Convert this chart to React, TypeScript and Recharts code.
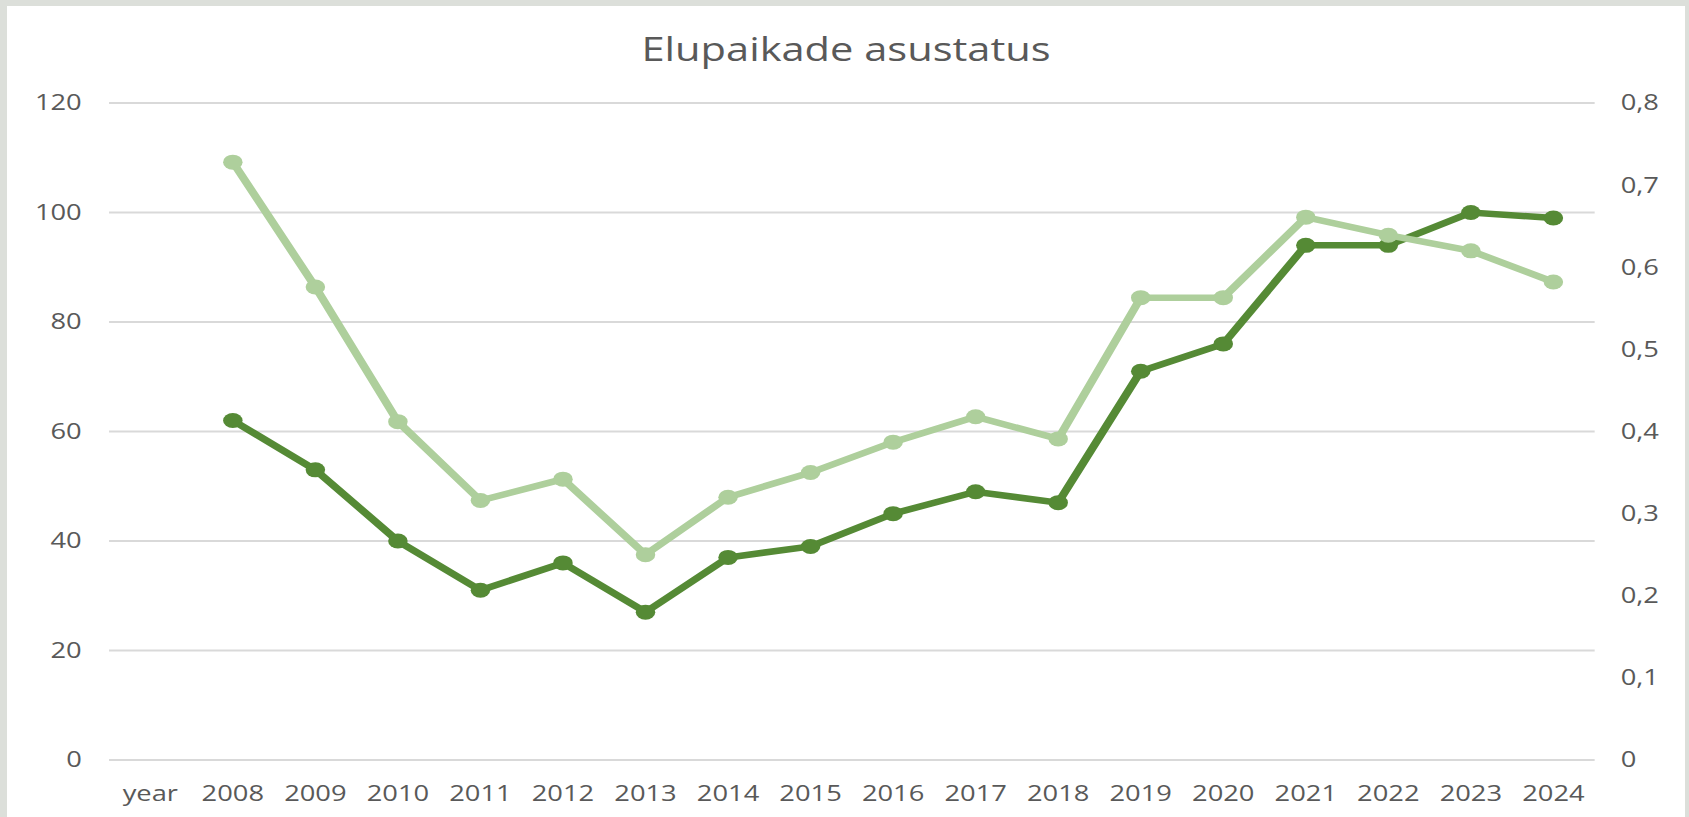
import React from 'react';
import { LineChart, Line, XAxis, YAxis, CartesianGrid } from 'recharts';

// categories on the x axis
const years = ['year', '2008', '2009', '2010', '2011', '2012', '2013', '2014', '2015', '2016', '2017', '2018', '2019', '2020', '2021', '2022', '2023', '2024'];

// dark green series, left axis
const occupiedSites = [null, 62, 53, 40, 31, 36, 27, 37, 39, 45, 49, 47, 71, 76, 94, 94, 100, 99];

// light green series, right axis
const occupancyShare = [null, 0.728, 0.576, 0.412, 0.316, 0.342, 0.25, 0.32, 0.35, 0.387, 0.418, 0.391, 0.563, 0.563, 0.661, 0.639, 0.62, 0.582];

const leftTicks = [0, 20, 40, 60, 80, 100, 120];
const rightTicks = [0, 0.1, 0.2, 0.3, 0.4, 0.5, 0.6, 0.7, 0.8];

const data = years.map((year, i) => ({
  year,
  sites: occupiedSites[i],
  share: occupancyShare[i],
}));

const DARK = '#558A35';
const LIGHT = '#AECF9C';
const TEXT = '#595959';
const FONT = '"Open Sans", sans-serif';

// the reference is stretched horizontally, so draw narrower and scale
const STRETCH = 1.3;
const PANEL_W = 1678;
const PANEL_H = 811;
const CHART_W = Math.round(PANEL_W / STRETCH);
const LEFT_W = 78.5;
const RIGHT_W = 69.5;
// half a category band, so points sit in the middle of each slot
const HALF_BAND = (CHART_W - LEFT_W - RIGHT_W) / years.length / 2;

const tickStyle = { fill: TEXT, fontSize: 21, fontFamily: FONT };

const App: React.FC = () => {
  return (
    <div style={{ position: 'absolute', left: 0, top: 0, width: 1689, height: 817, background: '#dcdfda', overflow: 'hidden' }}>
      <div style={{ position: 'absolute', left: 7, top: 6, width: PANEL_W, height: PANEL_H, background: '#ffffff' }}>
        <div style={{ position: 'relative', width: CHART_W, height: PANEL_H, transform: `scaleX(${PANEL_W / CHART_W})`, transformOrigin: '0 0' }}>
          <div
            style={{
              position: 'absolute',
              top: 27,
              left: 0,
              width: CHART_W,
              textAlign: 'center',
              fontFamily: FONT,
              fontSize: 32,
              lineHeight: '32px',
              color: TEXT,
            }}
          >
            Elupaikade asustatus
          </div>
          <LineChart width={CHART_W} height={PANEL_H} data={data} margin={{ top: 97, right: 0, left: 0, bottom: 0 }}>
            <CartesianGrid yAxisId="left" vertical={false} stroke="#d9d9d9" strokeWidth={2} />
            <XAxis
              dataKey="year"
              interval={0}
              padding={{ left: HALF_BAND, right: HALF_BAND }}
              axisLine={false}
              tickLine={false}
              tickSize={0}
              tickMargin={26}
              height={57}
              tick={tickStyle}
            />
            <YAxis
              yAxisId="left"
              orientation="left"
              domain={[0, 120]}
              ticks={leftTicks}
              axisLine={false}
              tickLine={false}
              tickSize={0}
              tickMargin={21}
              width={LEFT_W}
              tick={tickStyle}
            />
            <YAxis
              yAxisId="right"
              orientation="right"
              domain={[0, 0.8]}
              ticks={rightTicks}
              axisLine={false}
              tickLine={false}
              tickSize={0}
              tickMargin={20}
              width={RIGHT_W}
              tick={{ ...tickStyle, textAnchor: 'start' }}
              tickFormatter={(v) => (v === 0 ? '0' : Number(v).toFixed(1).replace('.', ','))}
            />
            <Line
              yAxisId="left"
              type="linear"
              dataKey="sites"
              stroke={DARK}
              strokeWidth={6.5}
              dot={{ r: 7.5, fill: DARK, stroke: DARK, strokeWidth: 0 }}
              activeDot={false}
              isAnimationActive={false}
            />
            <Line
              yAxisId="right"
              type="linear"
              dataKey="share"
              stroke={LIGHT}
              strokeWidth={6.5}
              dot={{ r: 7.5, fill: LIGHT, stroke: LIGHT, strokeWidth: 0 }}
              activeDot={false}
              isAnimationActive={false}
            />
          </LineChart>
        </div>
      </div>
    </div>
  );
};

export default App;
